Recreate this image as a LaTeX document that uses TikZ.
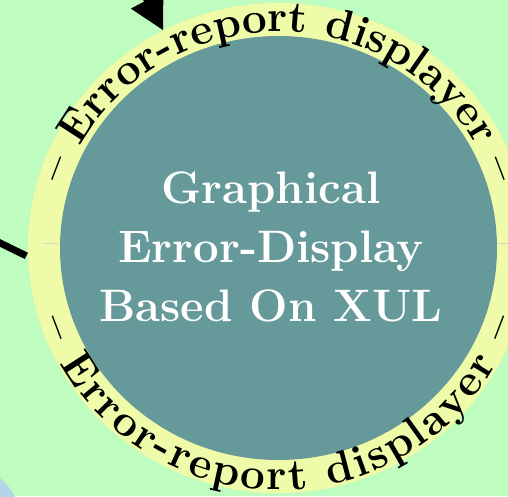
\documentclass[tikz,border=0pt]{standalone}
\usetikzlibrary{shapes.geometric, decorations.text, arrows.meta, calc}

\definecolor{meadow}{RGB}{191,252,191}
\definecolor{ringyellow}{RGB}{240,251,170}
\definecolor{coreteal}{RGB}{102,153,153}
\definecolor{skyblue}{RGB}{178,214,232}
\definecolor{seam}{RGB}{208,216,200}

\newcommand\ringfont{\fontsize{44}{50}\selectfont\bfseries}

\begin{document}
\begin{tikzpicture}[x=1pt, y=1pt,
  ringnode/.style={ellipse, fill=ringyellow, inner sep=0pt, outer sep=0pt,
    minimum width=501pt, minimum height=490pt},
  corenode/.style={ellipse, fill=coreteal, inner sep=0pt, outer sep=0pt,
    minimum width=437pt, minimum height=424pt},
  titletext/.style={text=white, align=center, inner sep=0pt,
    font=\fontsize{45.5}{59}\selectfont\bfseries},
  wire/.style={line width=7pt},
  ringlabel/.style={decorate, decoration={text along path,
    text align=#1,
    text={|\ringfont|– Error-report displayer –}}}
]
\useasboundingbox (0,0) rectangle (508,496);
\clip (0,0) rectangle (508,496);

% background and the neighbouring shape in the corner
\fill[meadow] (0,0) rectangle (508,496);
\fill[skyblue] (-38.6,-29.4) circle[radius=61pt];

% the component: yellow ring around the teal core
\node[ringnode] (ring) at (278.5,248) {};
\node[corenode] (core) at (278.5,248) {};
\node[titletext] (title) at (271,249.5) {Graphical\\Error-Display\\Based On XUL};

% ring labels, upper (centred) and lower (spread over the arc)
\path[ringlabel=center] ($(ring.center)+(200:224pt and 216pt)$)
  arc[start angle=200, end angle=-20, x radius=224pt, y radius=216pt];
\path[ringlabel=fit to path] ($(ring.center)+(197.5:248pt and 242pt)$)
  arc[start angle=197.5, end angle=342.5, x radius=248pt, y radius=242pt];

% thin seams across the ring
\draw[seam, line width=0.6pt] (43,253) -- (59,253);
\draw[seam, line width=0.6pt] (497,253) -- (508,253);

% incoming connectors
\coordinate (topsrc) at (116.8,553.2);
\coordinate (leftsrc) at (-45,275);
\draw[wire, -{Triangle[length=34.5pt, width=34.7pt]}] (topsrc) -- (ring);
\draw[wire, shorten >=2pt] (leftsrc) -- (ring.182);
\end{tikzpicture}
\end{document}
